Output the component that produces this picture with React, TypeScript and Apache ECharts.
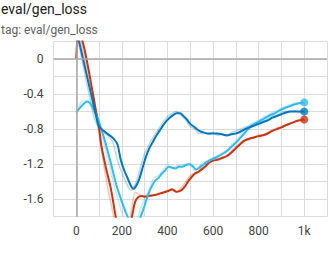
import React, { useEffect, useRef } from 'react';
import * as echarts from 'echarts';

const TITLE = 'eval/gen_loss';
const SUBTITLE = 'tag: eval/gen_loss';

const COLOR_DARK = '#0077bb';
const COLOR_LIGHT = '#33bbee';
const COLOR_RED = '#cc3311';

// smoothed series
const darkSteps = [0, 93, 100, 120, 140, 160, 180, 195, 210, 225, 240, 250, 260, 275, 290, 305, 320, 335, 350, 365, 380, 395, 410, 425, 440, 455, 470, 485, 500, 520, 540, 560, 580, 600, 620, 640, 660, 680, 700, 720, 740, 760, 780, 800, 820, 840, 860, 880, 900, 920, 940, 960, 980, 1000];
const darkVals = [0.34, -0.72, -0.77, -0.82, -0.86, -0.9, -0.97, -1.15, -1.27, -1.36, -1.45, -1.48, -1.46, -1.38, -1.25, -1.12, -1.02, -0.95, -0.88, -0.82, -0.76, -0.71, -0.67, -0.64, -0.62, -0.62, -0.65, -0.69, -0.74, -0.78, -0.82, -0.84, -0.85, -0.85, -0.85, -0.86, -0.87, -0.86, -0.85, -0.83, -0.8, -0.78, -0.76, -0.74, -0.72, -0.7, -0.67, -0.65, -0.63, -0.61, -0.6, -0.6, -0.6, -0.6];

const lightSteps = [0, 25, 49, 60, 71, 85, 100, 125, 150, 175, 200, 225, 250, 270, 285, 300, 315, 330, 345, 360, 375, 390, 405, 420, 435, 450, 465, 480, 495, 510, 525, 540, 555, 570, 590, 610, 630, 650, 670, 690, 710, 730, 750, 770, 790, 810, 830, 850, 870, 890, 910, 930, 950, 970, 990, 1000];
const lightVals = [-0.61, -0.53, -0.485, -0.5, -0.545, -0.62, -0.72, -0.93, -1.17, -1.43, -1.63, -1.8, -1.94, -1.88, -1.78, -1.67, -1.55, -1.46, -1.39, -1.36, -1.31, -1.27, -1.23, -1.24, -1.25, -1.23, -1.23, -1.21, -1.2, -1.22, -1.26, -1.24, -1.21, -1.18, -1.15, -1.13, -1.1, -1.07, -1.03, -0.98, -0.93, -0.87, -0.81, -0.76, -0.73, -0.7, -0.67, -0.64, -0.62, -0.59, -0.565, -0.545, -0.525, -0.51, -0.5, -0.495];

const redSteps = [0, 10, 96, 103, 110, 120, 130, 140, 150, 160, 170, 180, 195, 210, 225, 238, 248, 258, 270, 285, 300, 325, 350, 375, 400, 420, 440, 460, 475, 490, 505, 520, 535, 550, 565, 580, 600, 620, 640, 660, 680, 700, 720, 740, 760, 780, 800, 820, 840, 860, 880, 900, 920, 940, 960, 980, 1000];
const redVals = [0, 0.3, -0.72, -0.85, -0.99, -1.12, -1.24, -1.35, -1.46, -1.6, -1.76, -1.9, -2.05, -2.1, -2.0, -1.88, -1.75, -1.63, -1.58, -1.565, -1.57, -1.56, -1.55, -1.53, -1.51, -1.49, -1.515, -1.5, -1.46, -1.4, -1.35, -1.31, -1.29, -1.26, -1.23, -1.19, -1.16, -1.15, -1.13, -1.11, -1.07, -1.02, -0.97, -0.93, -0.91, -0.895, -0.88, -0.87, -0.85, -0.82, -0.8, -0.78, -0.755, -0.735, -0.715, -0.7, -0.69];

// raw (unsmoothed) series
const rawSteps = [0, 20, 40, 60, 80, 100, 120, 140, 160, 180, 200, 220, 240, 260, 280, 300, 320, 340, 360, 380, 400, 420, 440, 460, 480, 500, 520, 540, 560, 580, 600, 620, 640, 660, 680, 700, 720, 740, 760, 780, 800, 820, 840, 860, 880, 900, 920, 940, 960, 980, 1000];
const darkRaw = [0.34, 0.05, -0.2, -0.45, -0.68, -0.8, -0.84, -0.88, -0.95, -1.15, -1.3, -1.42, -1.5, -1.42, -1.25, -1.08, -0.97, -0.88, -0.8, -0.72, -0.66, -0.62, -0.6, -0.64, -0.7, -0.77, -0.8, -0.85, -0.84, -0.86, -0.84, -0.87, -0.86, -0.88, -0.84, -0.82, -0.8, -0.78, -0.76, -0.75, -0.72, -0.71, -0.68, -0.65, -0.64, -0.61, -0.6, -0.6, -0.59, -0.61, -0.6];
const lightRaw = [-0.61, -0.5, -0.47, -0.53, -0.62, -0.78, -0.95, -1.15, -1.38, -1.58, -1.75, -1.88, -1.98, -1.9, -1.72, -1.6, -1.48, -1.36, -1.33, -1.27, -1.2, -1.25, -1.22, -1.21, -1.2, -1.19, -1.28, -1.22, -1.18, -1.16, -1.12, -1.11, -1.07, -1.04, -0.98, -0.93, -0.87, -0.81, -0.75, -0.72, -0.7, -0.66, -0.64, -0.61, -0.59, -0.56, -0.54, -0.52, -0.5, -0.5, -0.49];
const redRawSteps = [0, 10, 20, 40, 60, 80, 100, 120, 140, 160, 180, 200, 220, 240, 260, 280, 300, 320, 340, 360, 380, 400, 420, 440, 460, 480, 500, 520, 540, 560, 580, 600, 620, 640, 660, 680, 700, 720, 740, 760, 780, 800, 820, 840, 860, 880, 900, 920, 940, 960, 980, 1000];
const redRaw = [0, 0.32, 0.2, -0.05, -0.3, -0.55, -0.85, -1.2, -1.5, -1.75, -2.0, -2.15, -2.05, -1.75, -1.52, -1.55, -1.58, -1.55, -1.56, -1.53, -1.52, -1.5, -1.48, -1.52, -1.47, -1.4, -1.33, -1.3, -1.27, -1.22, -1.18, -1.16, -1.14, -1.12, -1.1, -1.05, -1.0, -0.95, -0.92, -0.9, -0.89, -0.87, -0.86, -0.84, -0.81, -0.79, -0.77, -0.75, -0.73, -0.71, -0.7, -0.69];

const X_MIN = -100;
const X_MAX = 1100;
const X_INTERVAL = 100;
const Y_MIN = -1.8;
const Y_MAX = 0.2;
const Y_INTERVAL = 0.2;

const zip = (xs: number[], ys: number[]) => xs.map((x, i) => [x, ys[i]]);
const last = (xs: number[], ys: number[]) => [[xs[xs.length - 1], ys[ys.length - 1]]];

const FONT = 'Roboto, "Noto Sans", sans-serif';

export default function App() {
  const ref = useRef<HTMLDivElement>(null);
  useEffect(() => {
    document.body.style.margin = '0';
    if (!ref.current) return;
    const chart = echarts.init(ref.current, undefined, { renderer: 'svg' });
    const rawLine = (data: number[][], color: string) => ({
      type: 'line',
      data,
      showSymbol: false,
      symbol: 'none',
      smooth: 0.3,
      z: 2,
      lineStyle: { color, width: 1.5, opacity: 0.28 },
      silent: true,
    });
    const smoothLine = (data: number[][], color: string) => ({
      type: 'line',
      data,
      showSymbol: false,
      symbol: 'none',
      smooth: 0.3,
      z: 3,
      lineStyle: { color, width: 2 },
      silent: true,
    });
    const endDot = (data: number[][], color: string) => ({
      type: 'scatter',
      data,
      symbol: 'circle',
      symbolSize: 8,
      z: 4,
      itemStyle: { color },
      silent: true,
    });
    chart.setOption({
      animation: false,
      textStyle: { fontFamily: FONT },
      title: {
        text: TITLE,
        subtext: SUBTITLE,
        left: 1,
        top: 2,
        padding: 0,
        itemGap: 8,
        textStyle: { fontSize: 14, fontWeight: 'normal', color: '#212121', fontFamily: FONT },
        subtextStyle: { fontSize: 12, color: '#616161', fontFamily: FONT },
      },
      grid: { left: 53.5, right: 0.5, top: 41.5, bottom: 57.3, containLabel: false },
      xAxis: {
        type: 'value',
        min: X_MIN,
        max: X_MAX,
        interval: X_INTERVAL,
        axisLine: { show: false },
        axisTick: { show: true, length: 4, lineStyle: { color: '#dcdcdc' } },
        splitLine: { show: true, lineStyle: { color: '#dcdcdc', width: 1 } },
        axisLabel: {
          margin: 8,
          fontSize: 12,
          color: '#424242',
          fontFamily: FONT,
          formatter: (v: number) => {
            if (v < 0 || v > 1000 || v % 200 !== 0) return '';
            return v === 1000 ? '1k' : String(v);
          },
        },
      },
      yAxis: {
        type: 'value',
        min: Y_MIN,
        max: Y_MAX,
        interval: Y_INTERVAL,
        axisLine: { show: false },
        axisTick: { show: true, length: 4, lineStyle: { color: '#dcdcdc' } },
        splitLine: { show: true, lineStyle: { color: '#dcdcdc', width: 1 } },
        axisLabel: {
          margin: 10,
          fontSize: 12,
          color: '#424242',
          fontFamily: FONT,
          formatter: (v: number) => {
            const r = v / 0.4;
            if (Math.abs(r - Math.round(r)) > 1e-6) return '';
            if (v > 0.01) return '';
            const n = Number(v.toFixed(1));
            return n === 0 ? '0' : String(n);
          },
        },
      },
      series: [
        {
          type: 'line',
          data: [[0, 0]],
          showSymbol: false,
          symbol: 'none',
          lineStyle: { opacity: 0 },
          z: 1,
          silent: true,
          markLine: {
            silent: true,
            symbol: ['none', 'none'],
            label: { show: false },
            lineStyle: { color: '#a8a8a8', type: 'solid', width: 1.5 },
            data: [{ xAxis: 0 }, { yAxis: 0 }],
          },
        },
        rawLine(zip(rawSteps, darkRaw), COLOR_DARK),
        rawLine(zip(rawSteps, lightRaw), COLOR_LIGHT),
        rawLine(zip(redRawSteps, redRaw), COLOR_RED),
        smoothLine(zip(redSteps, redVals), COLOR_RED),
        smoothLine(zip(lightSteps, lightVals), COLOR_LIGHT),
        smoothLine(zip(darkSteps, darkVals), COLOR_DARK),
        endDot(last(redSteps, redVals), COLOR_RED),
        endDot(last(lightSteps, lightVals), COLOR_LIGHT),
        endDot(last(darkSteps, darkVals), COLOR_DARK),
      ],
    });
    return () => chart.dispose();
  }, []);
  return <div ref={ref} style={{ width: 330, height: 274 }} />;
}
